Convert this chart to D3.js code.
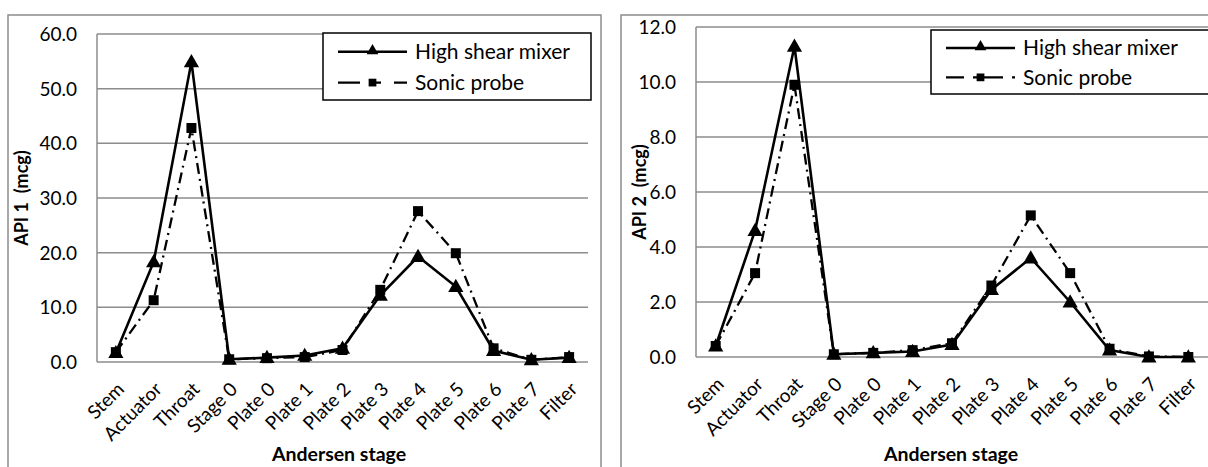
<!DOCTYPE html>
<html>
<head>
<meta charset="utf-8">
<script src="https://cdn.jsdelivr.net/npm/d3@7"></script>
<style>
  body { margin: 0; background: #fff; }
  svg { display: block; font-family: Lato, "Open Sans", sans-serif; }
</style>
</head>
<body>
<script>
const categories = ["Stem", "Actuator", "Throat", "Stage 0", "Plate 0", "Plate 1", "Plate 2",
  "Plate 3", "Plate 4", "Plate 5", "Plate 6", "Plate 7", "Filter"];

// API 1 (mcg)
const api1Mixer = [1.7, 18.3, 54.9, 0.5, 0.8, 1.2, 2.5, 12.2, 19.3, 13.8, 2.1, 0.4, 0.8];
const api1Probe = [1.8, 11.3, 42.8, 0.5, 0.7, 0.9, 2.2, 13.2, 27.6, 19.9, 2.5, 0.4, 0.9];
const api1Ticks = [0, 10, 20, 30, 40, 50, 60];

// API 2 (mcg)
const api2Mixer = [0.4, 4.6, 11.3, 0.1, 0.15, 0.2, 0.45, 2.45, 3.6, 2.0, 0.25, 0.0, 0.0];
const api2Probe = [0.4, 3.05, 9.9, 0.1, 0.15, 0.25, 0.5, 2.6, 5.15, 3.05, 0.3, 0.02, 0.0];
const api2Ticks = [0, 2, 4, 6, 8, 10, 12];

const seriesNames = ["High shear mixer", "Sonic probe"];

const w = 1208;
const h = 467;
const svg = d3.select("body").append("svg").attr("width", w).attr("height", h);

const drawChart = (cfg) => {
  const g = svg.append("g");

  // outer chart frame
  g.append("rect")
    .attr("x", cfg.frame.x).attr("y", cfg.frame.y)
    .attr("width", cfg.frame.w).attr("height", cfg.frame.h)
    .attr("fill", "#fff").attr("stroke", "#8c8c8c").attr("stroke-width", 1.5);

  const xScale = d3.scalePoint()
    .domain(categories)
    .range([cfg.plot.left, cfg.plot.right])
    .padding(0.5);

  const yScale = d3.scaleLinear()
    .domain([0, d3.max(cfg.ticks)])
    .range([cfg.plot.bottom, cfg.plot.top]);

  // gridlines
  g.selectAll(".grid")
    .data(cfg.ticks)
    .enter()
    .append("line")
    .attr("x1", cfg.plot.left).attr("x2", cfg.plot.right)
    .attr("y1", (d) => yScale(d)).attr("y2", (d) => yScale(d))
    .attr("stroke", "#8c8c8c").attr("stroke-width", 1.5);

  // y axis line
  g.append("line")
    .attr("x1", cfg.plot.left).attr("x2", cfg.plot.left)
    .attr("y1", cfg.plot.top).attr("y2", cfg.plot.bottom)
    .attr("stroke", "#8c8c8c").attr("stroke-width", 1.5);

  // y tick labels
  g.selectAll(".ytick")
    .data(cfg.ticks)
    .enter()
    .append("text")
    .attr("x", cfg.plot.left - 20)
    .attr("y", (d) => yScale(d))
    .attr("dy", "0.36em")
    .attr("text-anchor", "end")
    .attr("font-size", 19)
    .text((d) => d.toFixed(1));

  // x tick labels, rotated
  g.selectAll(".xtick")
    .data(categories)
    .enter()
    .append("text")
    .attr("transform", (d) => "translate(" + xScale(d) + "," + (cfg.plot.bottom + 19) + ") rotate(-45)")
    .attr("text-anchor", "end")
    .attr("dy", "0.7em")
    .attr("font-size", 19)
    .text((d) => d);

  // axis titles
  g.append("text")
    .attr("transform", "translate(" + cfg.yTitleX + "," + (cfg.plot.top + cfg.plot.bottom) / 2 + ") rotate(-90)")
    .attr("text-anchor", "middle")
    .attr("dy", "0.35em")
    .attr("font-size", 18)
    .attr("font-weight", "bold")
    .style("white-space", "pre")
    .text(cfg.yTitle);

  g.append("text")
    .attr("x", cfg.xTitleX)
    .attr("y", 461)
    .attr("text-anchor", "middle")
    .attr("font-size", 19.5)
    .attr("font-weight", "bold")
    .text("Andersen stage");

  const line = d3.line()
    .x((d, i) => xScale(categories[i]))
    .y((d) => yScale(d));

  const tri = d3.symbol().type(d3.symbolTriangle).size(100);
  const sq = d3.symbol().type(d3.symbolSquare).size(100);

  // sonic probe
  g.append("path")
    .datum(cfg.probe)
    .attr("d", line)
    .attr("fill", "none").attr("stroke", "#000").attr("stroke-width", 2.3)
    .attr("stroke-dasharray", "11,5,2,5");
  g.selectAll(".sq")
    .data(cfg.probe)
    .enter()
    .append("path")
    .attr("d", sq)
    .attr("transform", (d, i) => "translate(" + xScale(categories[i]) + "," + yScale(d) + ")")
    .attr("fill", "#000");

  // high shear mixer
  g.append("path")
    .datum(cfg.mixer)
    .attr("d", line)
    .attr("fill", "none").attr("stroke", "#000").attr("stroke-width", 2.6);
  g.selectAll(".tri")
    .data(cfg.mixer)
    .enter()
    .append("path")
    .attr("d", tri)
    .attr("transform", (d, i) => "translate(" + xScale(categories[i]) + "," + (yScale(d) + 1) + ")")
    .attr("fill", "#000");

  // legend
  const lg = g.append("g");
  lg.append("rect")
    .attr("x", cfg.legend.x).attr("y", cfg.legend.y)
    .attr("width", cfg.legend.w).attr("height", cfg.legend.h)
    .attr("fill", "#fff").attr("stroke", "#000").attr("stroke-width", 1.5);

  const lx0 = cfg.legend.x + 15;
  const lx1 = lx0 + 69;
  const row1 = cfg.legend.y + cfg.legend.h * 0.28;
  const row2 = cfg.legend.y + cfg.legend.h * 0.74;

  lg.append("line")
    .attr("x1", lx0).attr("x2", lx1).attr("y1", row1).attr("y2", row1)
    .attr("stroke", "#000").attr("stroke-width", 2.5);
  lg.append("path")
    .attr("d", d3.symbol().type(d3.symbolTriangle).size(60))
    .attr("transform", "translate(" + (lx0 + lx1) / 2 + "," + (row1 - 1) + ")");
  lg.append("line")
    .attr("x1", lx0).attr("x2", lx1).attr("y1", row2).attr("y2", row2)
    .attr("stroke", "#000").attr("stroke-width", 2.3)
    .attr("stroke-dasharray", cfg.legendDash);
  lg.append("path")
    .attr("d", d3.symbol().type(d3.symbolSquare).size(60))
    .attr("transform", "translate(" + (lx0 + lx1) / 2 + "," + row2 + ")");

  lg.selectAll(".ltext")
    .data(seriesNames)
    .enter()
    .append("text")
    .attr("x", lx1 + 8)
    .attr("y", (d, i) => (i === 0 ? row1 : row2))
    .attr("dy", "0.36em")
    .attr("font-size", 21)
    .text((d) => d);
};

drawChart({
  frame: { x: 8, y: 15, w: 593, h: 470 },
  plot: { left: 97, right: 588, top: 34, bottom: 362 },
  ticks: api1Ticks,
  mixer: api1Mixer,
  probe: api1Probe,
  yTitle: "API 1  (mcg)",
  yTitleX: 22,
  xTitleX: 339,
  legend: { x: 323, y: 33, w: 268, h: 67 },
  legendDash: "22,13,8,13",
});

drawChart({
  frame: { x: 621, y: 15, w: 600, h: 470 },
  plot: { left: 696, right: 1208, top: 27, bottom: 357 },
  ticks: api2Ticks,
  mixer: api2Mixer,
  probe: api2Probe,
  yTitle: "API 2  (mcg)",
  yTitleX: 640,
  xTitleX: 951,
  legend: { x: 931, y: 30, w: 280, h: 64 },
  legendDash: "18,9,30,9,3",
});
</script>
</body>
</html>
